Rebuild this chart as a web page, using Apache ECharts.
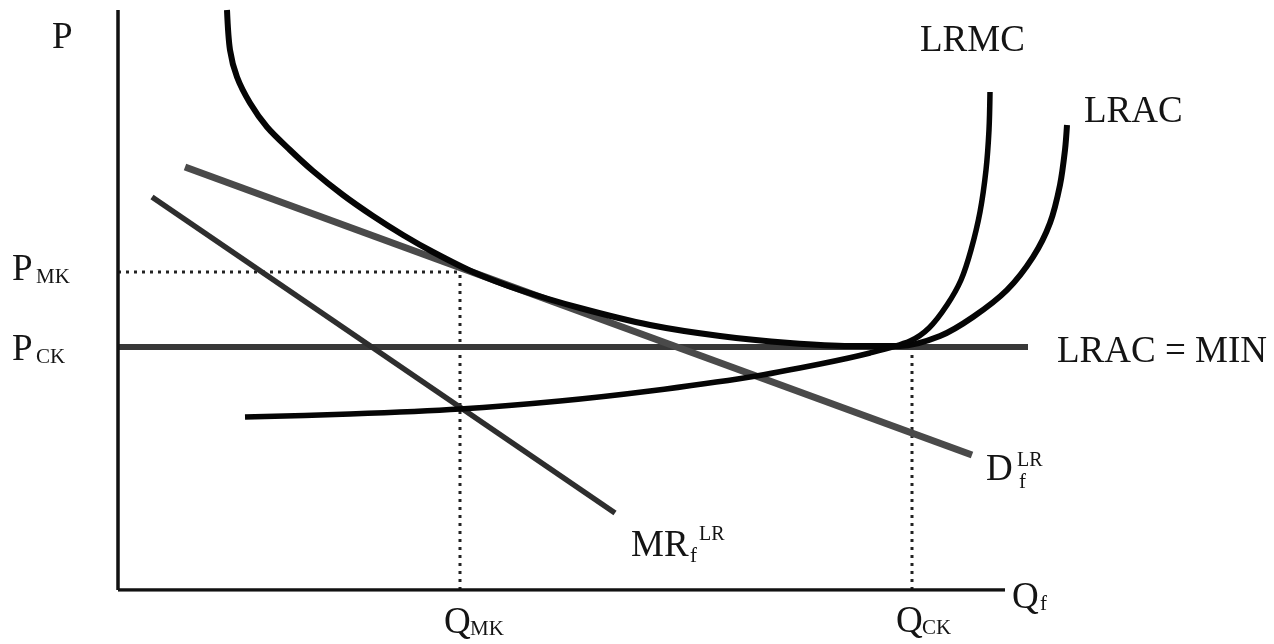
<!DOCTYPE html>
<html>
<head>
<meta charset="utf-8">
<script src="https://cdn.jsdelivr.net/npm/echarts@6/dist/echarts.min.js"></script>
<style>html,body{margin:0;padding:0;background:#fff;}#c{width:1274px;height:644px;}</style>
</head>
<body>
<div id="c"></div>
<script>
// Data in abstract chart units (quantity on x, price on y)
const lrac = [[109,580],[112,540],[119,513],[132,487],[149,463],[172,440],[195,419],[225,395],[255,374],[285,355],[315,338],[355,318],[402,300],[462,282],[532,265],[602,254],[672,247],[732,244],[782,244],[822,254],[855,273],[889,300],[915,333],[932,367],[942,405],[947,440],[949,465]];
const lrmc = [[127,173],[232,176],[342,181],[442,189],[532,199],[632,213],[702,226],[752,237],[792,249],[811,262],[829,285],[843,310],[853,340],[862,378],[868,420],[871,460],[872,498]];
const demand = [[67,423],[854,135]];
const mr = [[34,393],[497,77]];
const pMK = 318;
const pCK = 243;
const qMK = 342;
const qCK = 794;
const minLineEnd = 910;
const xAxisEnd = 887;
const yAxisEnd = 580;

const chart = echarts.init(document.getElementById('c'));
const serif = '"Liberation Serif", "DejaVu Serif", serif';
function txt(text, x, y, size, color) {
  return {type:'text', x:x, y:y, silent:true, z:100,
    style:{text:text, font: size + 'px ' + serif, fill: color || '#141414', align:'left', verticalAlign:'middle'}};
}
const line = (data, color, width, type, z) => ({
  type:'line', data:data, showSymbol:false, symbol:'none', smooth:false, z:z||2,
  lineStyle:{color:color, width:width, type:type||'solid', cap:'butt', join:'round'}, emphasis:{disabled:true}
});
const curve = (data, color, width, z) => Object.assign(line(data, color, width, 'solid', z), {smooth:0.3});

chart.setOption({
  animation:false,
  grid:{left:118, top:10, width:982, height:580},
  xAxis:{type:'value', min:0, max:982, axisLine:{show:false}, axisTick:{show:false}, axisLabel:{show:false}, splitLine:{show:false}},
  yAxis:{type:'value', min:0, max:580, axisLine:{show:false}, axisTick:{show:false}, axisLabel:{show:false}, splitLine:{show:false}},
  series:[
    line([[0,0],[xAxisEnd,0]], '#111', 3.5, 'solid', 5),
    line([[0,0],[0,yAxisEnd]], '#111', 3.5, 'solid', 5),
    line([[0,pMK],[qMK,pMK]], '#222', 3, [3,5], 1),
    line([[qMK,0],[qMK,pMK]], '#222', 3, [3,5], 1),
    line([[qCK,0],[qCK,pCK]], '#222', 3, [3,5], 1),
    line([[0,pCK],[minLineEnd,pCK]], '#383838', 6, 'solid', 2),
    line(demand, '#4a4a4a', 7, 'solid', 3),
    line(mr, '#2e2e2e', 5.5, 'solid', 3),
    curve(lrac, '#050505', 6, 4),
    curve(lrmc, '#050505', 5.5, 4)
  ],
  graphic:[
    txt('P', 52, 38, 37),
    txt('P', 12, 270, 37), txt('MK', 36, 277, 21),
    txt('P', 12, 350, 37), txt('CK', 36, 357, 21),
    txt('Q', 444, 623, 37), txt('MK', 470, 629, 21),
    txt('Q', 896, 622, 37), txt('CK', 922, 628, 21),
    txt('Q', 1012, 598, 37), txt('f', 1040, 604, 21),
    txt('LRMC', 920, 41, 37),
    txt('LRAC', 1084, 112, 37),
    txt('LRAC = MIN', 1057, 352, 37),
    txt('D', 986, 470, 37), txt('f', 1019, 482, 21), txt('LR', 1017, 461, 20),
    txt('MR', 631, 546, 37), txt('f', 690, 556, 21), txt('LR', 699, 535, 20)
  ]
});
</script>
</body>
</html>
